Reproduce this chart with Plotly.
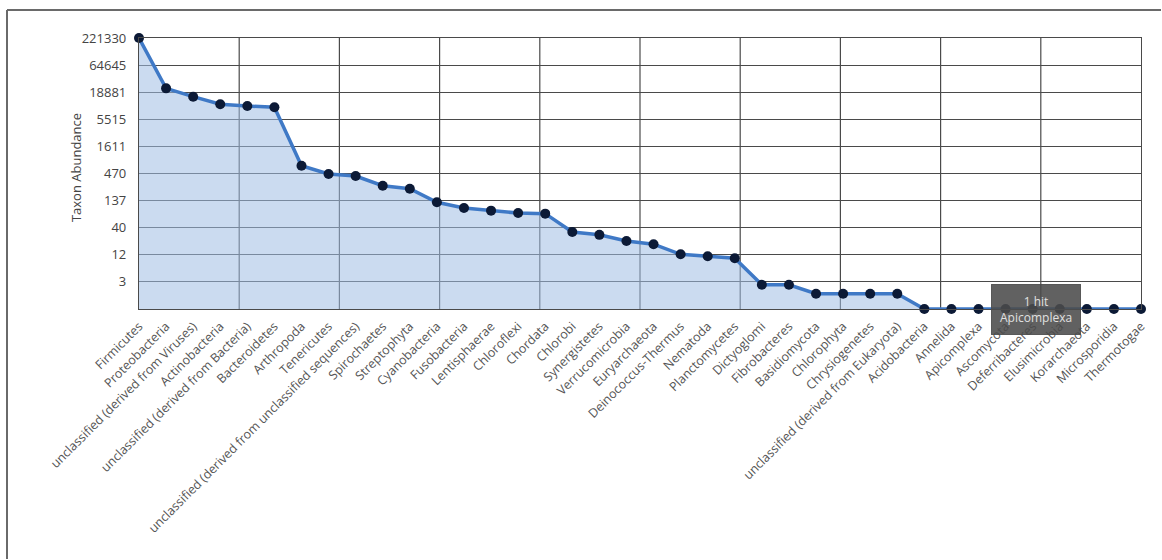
import math
import plotly.graph_objects as go

categories = [
    "Firmicutes", "Proteobacteria", "unclassified (derived from Viruses)", "Actinobacteria",
    "unclassified (derived from Bacteria)", "Bacteroidetes", "Arthropoda", "Tenericutes",
    "unclassified (derived from unclassified sequences)", "Spirochaetes", "Streptophyta",
    "Cyanobacteria", "Fusobacteria", "Lentisphaerae", "Chloroflexi", "Chordata", "Chlorobi",
    "Synergistetes", "Verrucomicrobia", "Euryarchaeota", "Deinococcus-Thermus", "Nematoda",
    "Planctomycetes", "Dictyoglomi", "Fibrobacteres", "Basidiomycota", "Chlorophyta",
    "Chrysiogenetes", "unclassified (derived from Eukaryota)", "Acidobacteria", "Annelida",
    "Apicomplexa", "Ascomycota", "Deferribacteres", "Elusimicrobia", "Korarchaeota",
    "Microsporidia", "Thermotogae",
]
abundance = [
    221330, 22500, 15400, 10900, 10100, 9500, 670, 460, 420, 270, 236, 127, 98, 87, 78, 76,
    33, 29, 22, 19, 12, 11, 10, 3, 3, 2, 2, 2, 2, 1, 1, 1, 1, 1, 1, 1, 1, 1,
]
tick_labels = ["3", "12", "40", "137", "470", "1611", "5515", "18881", "64645", "221330"]
y_max = 221330
tooltip_index = 31
tooltip_text = "1 hit<br>Apicomplexa"

n = len(categories)
xs = list(range(n))
top_log = math.log10(y_max)
tick_vals = [10 ** (top_log * (k + 1) / len(tick_labels)) for k in range(len(tick_labels))]

W, H = 1162, 560
L, R, T, B = 139, 21, 38, 251
pw = W - L - R
ph = H - T - B

fig = go.Figure()
fig.add_trace(go.Scatter(x=xs, y=[1] * n, mode="lines", line=dict(width=0),
                         hoverinfo="skip", showlegend=False))
fig.add_trace(go.Scatter(
    x=xs, y=abundance, mode="lines+markers", fill="tonexty",
    fillcolor="rgba(160,190,228,0.55)",
    line=dict(color="#3f79c6", width=3.5),
    marker=dict(color="#0c1a36", size=10),
    cliponaxis=False, showlegend=False,
))

grid = "#4a4a4a"
shapes = []
for k in range(1, 10):
    shapes.append(dict(type="line", xref="x domain", yref="y domain", x0=k / 10, x1=k / 10,
                       y0=0, y1=1, line=dict(color=grid, width=1.2), layer="below"))
fx = (7 - L) / pw
fy = 1 + (T - 10) / ph
shapes.append(dict(type="line", xref="paper", yref="paper", x0=fx, x1=(W - 1 - L) / pw,
                   y0=fy, y1=fy, line=dict(color="#6a6a6a", width=2)))
shapes.append(dict(type="line", xref="paper", yref="paper", x0=fx, x1=fx,
                   y0=fy, y1=-(B - 1) / ph, line=dict(color="#6a6a6a", width=2)))

fig.update_layout(
    width=W, height=H,
    margin=dict(l=L, r=R, t=T, b=B, pad=0),
    paper_bgcolor="white", plot_bgcolor="white",
    font=dict(family="Open Sans, DejaVu Sans, sans-serif", color="#444"),
    shapes=shapes,
    xaxis=dict(range=[0, n - 1], tickmode="array", tickvals=xs, ticktext=categories,
               tickangle=-45, showgrid=False, zeroline=False, showline=True, mirror=True,
               linecolor=grid, linewidth=1.2, ticks="outside", ticklen=4,
               tickcolor="rgba(0,0,0,0)",
               tickfont=dict(size=12.5, color="#555")),
    yaxis=dict(type="log", range=[0, top_log], tickmode="array", tickvals=tick_vals,
               ticktext=tick_labels, showgrid=True, gridcolor=grid, gridwidth=1.2,
               zeroline=False, showline=True, mirror=True, linecolor=grid, linewidth=1.2,
               ticks="outside", ticklen=9, tickcolor="rgba(0,0,0,0)",
               tickfont=dict(size=13, color="#444")),
    annotations=[
        dict(text="Taxon Abundance", xref="paper", yref="paper", x=(65 - L) / pw, y=0.52,
             textangle=-90, showarrow=False, font=dict(size=13, color="#444")),
        dict(text=tooltip_text, x=tooltip_index, y=0, xref="x", yref="y",
             xanchor="left", yanchor="middle", xshift=12, showarrow=False,
             bgcolor="rgba(75,75,75,0.88)", bordercolor="rgba(75,75,75,0.88)",
             borderpad=8, font=dict(size=12, color="#e0e0e0")),
    ],
)

fig.write_html("out.html")
